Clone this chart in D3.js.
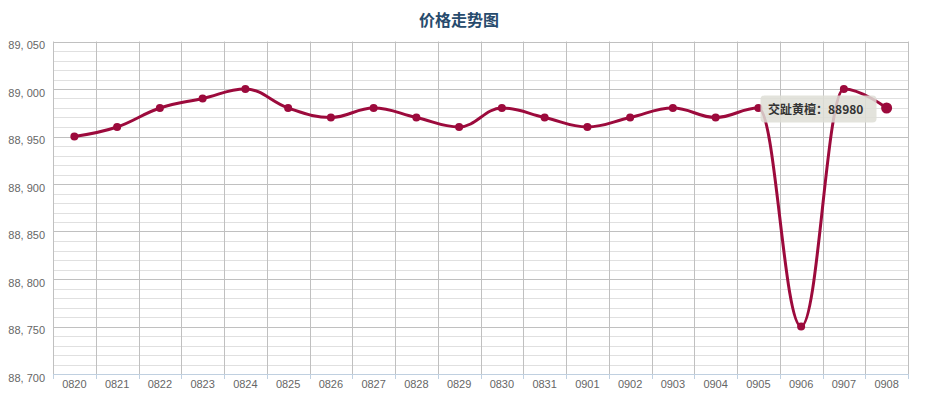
<!DOCTYPE html>
<html><head><meta charset="utf-8">
<script src="https://cdn.jsdelivr.net/npm/d3@7/dist/d3.min.js"></script>
<style>body{margin:0;background:#fff;}svg{display:block;}</style>
</head><body>
<svg id="chart" width="926" height="398"></svg>
<script>
const title = "价格走势图";
const seriesName = "交趾黄檀";
const categories = ["0820","0821","0822","0823","0824","0825","0826","0827","0828","0829","0830","0831","0901","0902","0903","0904","0905","0906","0907","0908"];
const prices = [88950,88960,88980,88990,89000,88980,88970,88980,88970,88960,88980,88970,88960,88970,88980,88970,88980,88750,89000,88980];
const yTicks = [88700,88750,88800,88850,88900,88950,89000,89050];
const yMinorTicks = d3.range(88700, 89051, 10);
const hoverIndex = 19;

const plotLeft = 53, plotRight = 908, plotTop = 41.5, plotBottom = 374;
const svg = d3.select("#chart");
const lineColor = "#9c0a3c";

const x = d3.scaleBand().domain(categories).range([plotLeft, plotRight]).padding(0);
const y = d3.scaleLinear().domain([88700, 89050]).range([plotBottom, plotTop]);

const grid = svg.append("g");
grid.selectAll("line.minor").data(yMinorTicks.filter(v => !yTicks.includes(v))).join("line")
  .attr("x1", plotLeft).attr("x2", plotRight)
  .attr("y1", d => Math.round(y(d)) + 0.5).attr("y2", d => Math.round(y(d)) + 0.5)
  .attr("stroke", "#e0e0e0").attr("stroke-width", 1);
grid.selectAll("line.major").data(yTicks).join("line")
  .attr("x1", plotLeft).attr("x2", plotRight)
  .attr("y1", d => Math.round(y(d)) + 0.5).attr("y2", d => Math.round(y(d)) + 0.5)
  .attr("stroke", "#c0c0c0").attr("stroke-width", 1);
const bounds = categories.map(c => x(c)).concat([x(categories[categories.length-1]) + x.bandwidth()]);
grid.selectAll("line.v").data(bounds).join("line")
  .attr("x1", d => Math.round(d) + 0.5).attr("x2", d => Math.round(d) + 0.5)
  .attr("y1", plotTop).attr("y2", plotBottom)
  .attr("stroke", "#c0c0c0").attr("stroke-width", 1);

svg.append("line").attr("x1", plotLeft).attr("x2", plotRight + 1)
  .attr("y1", plotBottom + 0.5).attr("y2", plotBottom + 0.5).attr("stroke", "#c0d0e0");
svg.selectAll("line.xt").data(bounds).join("line")
  .attr("x1", d => Math.round(d) + 0.5).attr("x2", d => Math.round(d) + 0.5)
  .attr("y1", plotBottom).attr("y2", plotBottom + 5).attr("stroke", "#c0d0e0");

svg.selectAll("text.xl").data(categories).join("text")
  .attr("x", d => x(d) + x.bandwidth() / 2).attr("y", 387.5)
  .attr("text-anchor", "middle").attr("fill", "#666")
  .attr("font-family", "'Liberation Sans', Arial, sans-serif").attr("font-size", 11)
  .text(d => d);

const fmt = d3.format(",");
svg.selectAll("text.yl").data(yTicks).join("text")
  .attr("x", 45).attr("y", d => y(d) + 7.5)
  .attr("text-anchor", "end").attr("fill", "#666")
  .attr("font-family", "'Liberation Sans', Arial, sans-serif").attr("font-size", 11)
  .text(d => fmt(d).replace(",", ", "));

svg.append("text").attr("x", 459).attr("y", 26).attr("text-anchor", "middle")
  .attr("fill", "#274b6d").attr("font-weight", "bold").attr("font-size", 16)
  .attr("font-family", "'Noto Sans CJK SC', sans-serif").text(title);

const pts = prices.map((v, i) => [x(categories[i]) + x.bandwidth() / 2, y(v)]);
function splinePath(p) {
  const s = 1.5, den = s + 1;
  const ctrl = p.map((pt, i) => {
    if (i === 0 || i === p.length - 1) return null;
    const [px, py] = pt, [lx, ly] = p[i-1], [nx, ny] = p[i+1];
    let lcx = (s*px + lx)/den, lcy = (s*py + ly)/den;
    let rcx = (s*px + nx)/den, rcy = (s*py + ny)/den;
    if (rcx !== lcx) {
      const corr = ((rcy - lcy)*(rcx - px))/(rcx - lcx) + py - rcy;
      lcy += corr; rcy += corr;
    }
    if (lcy > ly && lcy > py) { lcy = Math.max(ly, py); rcy = 2*py - lcy; }
    else if (lcy < ly && lcy < py) { lcy = Math.min(ly, py); rcy = 2*py - lcy; }
    if (rcy > ny && rcy > py) { rcy = Math.max(ny, py); lcy = 2*py - rcy; }
    else if (rcy < ny && rcy < py) { rcy = Math.min(ny, py); lcy = 2*py - rcy; }
    return {lcx, lcy, rcx, rcy};
  });
  const path = d3.path();
  path.moveTo(p[0][0], p[0][1]);
  for (let i = 1; i < p.length; i++) {
    const prev = ctrl[i-1], cur = ctrl[i];
    const c1x = prev ? prev.rcx : p[i-1][0], c1y = prev ? prev.rcy : p[i-1][1];
    const c2x = cur ? cur.lcx : p[i][0], c2y = cur ? cur.lcy : p[i][1];
    path.bezierCurveTo(c1x, c1y, c2x, c2y, p[i][0], p[i][1]);
  }
  return path.toString();
}
svg.append("path").attr("d", splinePath(pts)).attr("fill", "none")
  .attr("stroke", lineColor).attr("stroke-width", 3).attr("stroke-linejoin", "round");

svg.selectAll("circle.m").data(prices).join("circle")
  .attr("cx", (d, i) => x(categories[i]) + x.bandwidth() / 2)
  .attr("cy", d => y(d))
  .attr("r", (d, i) => i === hoverIndex ? 5.5 : 4)
  .attr("fill", lineColor);

const hx = x(categories[hoverIndex]) + x.bandwidth() / 2, hy = y(prices[hoverIndex]);
const tip = svg.append("g").attr("transform", `translate(${Math.round(hx - 127)},${Math.round(hy - 13)})`);
tip.append("rect").attr("x", 0.5).attr("y", 0.5).attr("width", 116).attr("height", 27).attr("rx", 4)
  .attr("fill", "rgba(222,222,214,0.85)");
tip.append("text").attr("x", 8).attr("y", 19).attr("fill", "#333").attr("font-weight", "bold")
  .attr("font-size", 12).attr("font-family", "'Noto Sans CJK SC', sans-serif")
  .text(`${seriesName}：${prices[hoverIndex]}`);
</script>
</body></html>
